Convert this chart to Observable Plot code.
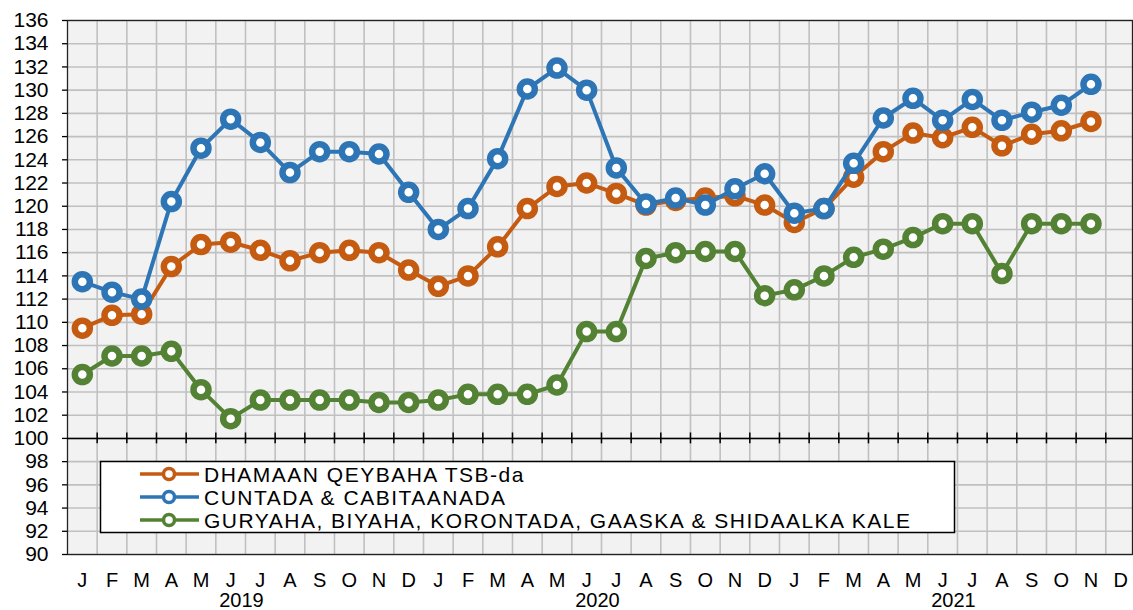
<!DOCTYPE html>
<html><head><meta charset="utf-8">
<script src="https://cdn.jsdelivr.net/npm/d3@7"></script>
<script src="https://cdn.jsdelivr.net/npm/@observablehq/plot@0.6"></script>
<style>
body{margin:0;background:#fff;font-family:"Liberation Sans",Arial,sans-serif}
#chart{position:relative;width:1133px;height:610px}
</style>
</head><body><div id="chart"></div>
<script>
const monthLabels = ["J","F","M","A","M","J","J","A","S","O","N","D"];
const years = ["2019","2020","2021"];
const seriesNames = ["DHAMAAN QEYBAHA TSB-da", "CUNTADA & CABITAANADA", "GURYAHA, BIYAHA, KORONTADA, GAASKA & SHIDAALKA KALE"];
const seriesColors = ["#C55A11", "#2E75B6", "#548235"];
const yTicks = d3.range(90, 137, 2);

const dhamaan = [109.5, 110.6, 110.7, 114.8, 116.7, 116.9, 116.2, 115.3, 116.0, 116.2, 116.0, 114.5,
                 113.1, 114.0, 116.5, 119.8, 121.7, 122.0, 121.1, 120.1, 120.5, 120.7, 120.9, 120.1,
                 118.6, 119.8, 122.5, 124.7, 126.3, 125.9, 126.8, 125.2, 126.2, 126.5, 127.3];
const cuntada = [113.5, 112.6, 112.0, 120.4, 125.0, 127.5, 125.5, 122.9, 124.7, 124.7, 124.5, 121.2,
                 118.0, 119.8, 124.1, 130.1, 131.9, 130.0, 123.3, 120.2, 120.7, 120.1, 121.5, 122.8,
                 119.4, 119.8, 123.7, 127.6, 129.3, 127.4, 129.2, 127.4, 128.1, 128.7, 130.5];
const guryaha = [105.5, 107.1, 107.1, 107.5, 104.2, 101.7, 103.3, 103.3, 103.3, 103.3, 103.1, 103.1,
                 103.3, 103.8, 103.8, 103.8, 104.6, 109.2, 109.2, 115.5, 116.0, 116.1, 116.1, 112.3,
                 112.8, 114.0, 115.6, 116.3, 117.3, 118.5, 118.5, 114.2, 118.5, 118.5, 118.5];

const seriesValues = [dhamaan, cuntada, guryaha];
const nMonths = years.length * monthLabels.length;

const seriesMarks = seriesValues.flatMap((vals, s) => {
  const rows = vals.map((v, i) => ({series: seriesNames[s], i, value: v}));
  return [
    Plot.line(rows, {x: d => d.i + 0.5, y: "value", stroke: "series", strokeWidth: 4}),
    Plot.dot(rows, {x: d => d.i + 0.5, y: "value", stroke: "series", r: 7.5, strokeWidth: 6.5, fill: "white"})
  ];
});

const font = "Liberation Sans, Arial, sans-serif";
const plot = Plot.plot({
  width: 1133, height: 610,
  marginLeft: 67, marginRight: 1, marginTop: 20, marginBottom: 56,
  x: {domain: [0, nMonths - 0.1], axis: null, label: null},
  y: {domain: [90, 136], axis: null, label: null},
  color: {domain: seriesNames, range: seriesColors},
  style: {fontFamily: font, background: "white", color: "black"},
  marks: [
    Plot.frame({fill: "#f2f2f2", stroke: null}),
    Plot.gridY(yTicks, {stroke: "#c0c0c0", strokeOpacity: 1, strokeWidth: 1.6}),
    Plot.gridX(d3.range(1, nMonths), {stroke: "#c0c0c0", strokeOpacity: 1, strokeWidth: 1.6}),
    Plot.frame({stroke: "#222", strokeWidth: 1.3}),
    Plot.ruleY([100], {stroke: "black", strokeWidth: 1.5}),
    Plot.ruleX(d3.range(1, nMonths), {y1: 99.53, y2: 100.47, stroke: "black", strokeWidth: 1.5}),
    Plot.axisY(yTicks, {tickSize: 5, tickPadding: 14, fontSize: 21, stroke: "black", strokeWidth: 1.3, label: null, style: "letter-spacing:1.3px"}),
    Plot.axisX(d3.range(nMonths).map(i => i + 0.5), {
      tickFormat: d => monthLabels[Math.floor(d) % 12], tickSize: 0, tickPadding: 18, fontSize: 20, label: null
    }),
    Plot.axisX([6, 18, 30], {
      tickFormat: d => years[(d - 6) / 12], tickSize: 0, tickPadding: 38, fontSize: 20, dx: -4, label: null,
      style: "letter-spacing:1.5px"
    }),
    ...seriesMarks
  ]
});
document.getElementById("chart").appendChild(plot);

// Legend box inside the plot area
const svg = d3.select(plot);
const lg = svg.append("g").attr("text-anchor", "start");
lg.append("rect").attr("x", 100.5).attr("y", 461.5).attr("width", 854).attr("height", 71)
  .attr("fill", "white").attr("stroke", "black").attr("stroke-width", 1.5);
seriesNames.forEach((name, s) => {
  const cy = 474 + s * 23;
  lg.append("line").attr("x1", 140).attr("x2", 199).attr("y1", cy).attr("y2", cy)
    .attr("stroke", seriesColors[s]).attr("stroke-width", 3.5);
  lg.append("circle").attr("cx", 169).attr("cy", cy).attr("r", 5.5)
    .attr("fill", "white").attr("stroke", seriesColors[s]).attr("stroke-width", 3.5);
  lg.append("text").attr("x", 204).attr("y", cy).attr("dy", "0.36em")
    .attr("text-anchor", "start")
    .attr("font-size", 21).attr("font-family", font).attr("fill", "black")
    .style("letter-spacing", "1.5px").text(name);
});
</script>
</body></html>
